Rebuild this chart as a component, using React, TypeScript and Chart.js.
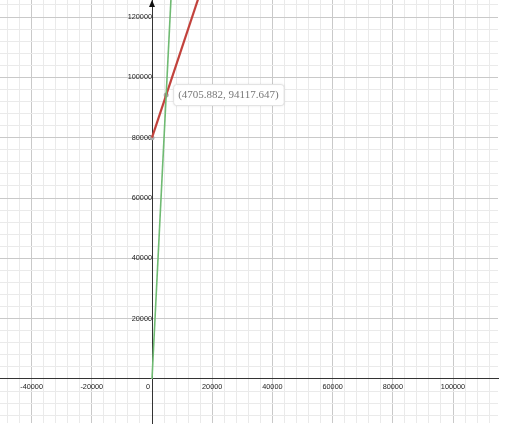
import { useEffect, useRef } from "react"
import { Chart, registerables } from "chart.js"

Chart.register(...registerables)

// two lines, both starting at x = 0 and running off the top of the view
const greenX = [0, 7000]
const greenY = [0, 140000]
const redX = [0, 20000]
const redY = [80000, 140000]

// marked points and the label of the intersection
const pointX = [0, 4705.882]
const pointY = [80000, 94117.647]
const pointLabel = "(4705.882, 94117.647)"

// visible window, labelled ticks and minor grid spacing
const xRange = [-50500, 114950]
const yRange = [-14590, 125640]
const xLabelTicks = [-40000, -20000, 0, 20000, 40000, 60000, 80000, 100000]
const yLabelTicks = [20000, 40000, 60000, 80000, 100000, 120000]
const majorStep = 20000
const minorStep = 4000

const gridColor = (v: number) =>
  v === 0 ? "#333333" : v % majorStep === 0 ? "#c9c9c9" : "#eaeaea"

const gridTicks = (min: number, max: number) => {
  const out: { value: number }[] = []
  for (let v = Math.ceil(min / minorStep) * minorStep; v <= max; v += minorStep) out.push({ value: v })
  return out
}

// the axes sit inside the plot, so they should not push the plot edges inward
const noPadding = (s: any) => {
  s.paddingLeft = 0
  s.paddingRight = 0
  s.paddingTop = 0
  s.paddingBottom = 0
}

const overlay = {
  id: "overlay",
  afterDatasetsDraw(chart: any) {
    const { ctx, chartArea } = chart
    const x = chart.scales.x
    const y = chart.scales.y
    const ax = x.getPixelForValue(0)
    ctx.save()
    // arrow on top of the y axis
    ctx.fillStyle = "#111"
    ctx.beginPath()
    ctx.moveTo(ax, chartArea.top)
    ctx.lineTo(ax - 3, chartArea.top + 7)
    ctx.lineTo(ax + 3, chartArea.top + 7)
    ctx.closePath()
    ctx.fill()

    // label box next to the intersection
    const px = x.getPixelForValue(pointX[1])
    const py = y.getPixelForValue(pointY[1])
    ctx.font = "11px 'Liberation Serif', 'DejaVu Serif', serif"
    const w = ctx.measureText(pointLabel).width
    const bx = px + 7
    const by = py - 11
    const bw = w + 10
    const bh = 21
    ctx.shadowColor = "rgba(0,0,0,0.12)"
    ctx.shadowBlur = 3
    ctx.fillStyle = "#ffffff"
    ctx.strokeStyle = "#e2e2e2"
    ctx.lineWidth = 1
    ctx.beginPath()
    ctx.roundRect(bx + 0.5, by + 0.5, bw, bh, 3)
    ctx.fill()
    ctx.shadowBlur = 0
    ctx.shadowColor = "transparent"
    ctx.stroke()
    ctx.fillStyle = "#777777"
    ctx.textBaseline = "middle"
    ctx.fillText(pointLabel, bx + 5, py + 0.5)
    ctx.restore()
  },
}

export default function App() {
  const canvasRef = useRef<HTMLCanvasElement | null>(null)
  const chartRef = useRef<Chart | null>(null)

  useEffect(() => {
    if (!canvasRef.current) return
    if (chartRef.current) chartRef.current.destroy()

    const tickFont = { family: "'Liberation Sans', Arial, sans-serif", size: 7.3 }

    chartRef.current = new Chart(canvasRef.current, {
      type: "line",
      data: {
        datasets: [
          {
            label: "green",
            data: greenX.map((v, i) => ({ x: v, y: greenY[i] })),
            borderColor: "#6fba72",
            borderWidth: 1.6,
            pointRadius: 0,
          },
          {
            label: "red",
            data: redX.map((v, i) => ({ x: v, y: redY[i] })),
            borderColor: "#c2423c",
            borderWidth: 2.2,
            pointRadius: 0,
          },
          {
            label: "points",
            data: pointX.map((v, i) => ({ x: v, y: pointY[i] })),
            showLine: false,
            pointRadius: 2.5,
            pointBackgroundColor: "#a9a9a9",
            pointBorderWidth: 0,
          },
        ],
      },
      options: {
        animation: false,
        responsive: true,
        maintainAspectRatio: false,
        layout: { autoPadding: false, padding: { right: 7, bottom: 2, left: 0, top: 0 } },
        plugins: { legend: { display: false }, tooltip: { enabled: false } },
        scales: {
          x: {
            type: "linear",
            position: { y: 0 },
            min: xRange[0],
            max: xRange[1],
            afterBuildTicks: (s: any) => {
              s.ticks = gridTicks(xRange[0], xRange[1])
            },
            afterFit: noPadding,
            grid: {
              drawTicks: false,
              color: (c: any) => gridColor(c.tick.value),
            },
            border: { color: "#333333", width: 1 },
            ticks: {
              autoSkip: false,
              maxRotation: 0,
              minRotation: 0,
              padding: 4,
              color: "#222",
              font: tickFont,
              callback: (v: any) =>
                v === 0 ? "0    " : xLabelTicks.includes(v) ? String(v) : "",
            },
          },
          y: {
            type: "linear",
            position: { x: 0 },
            min: yRange[0],
            max: yRange[1],
            afterBuildTicks: (s: any) => {
              s.ticks = gridTicks(yRange[0], yRange[1])
            },
            afterFit: noPadding,
            grid: {
              drawTicks: false,
              color: (c: any) => gridColor(c.tick.value),
            },
            border: { color: "#333333", width: 1 },
            ticks: {
              autoSkip: false,
              padding: 3,
              color: "#222",
              font: tickFont,
              callback: (v: any) => (yLabelTicks.includes(v) ? String(v) : ""),
            },
          },
        },
      },
      plugins: [overlay],
    } as any)

    return () => {
      if (chartRef.current) {
        chartRef.current.destroy()
        chartRef.current = null
      }
    }
  }, [])

  return (
    <div style={{ position: "absolute", left: 0, top: 0, width: 505, height: 425, background: "#fff" }}>
      <canvas ref={canvasRef} />
    </div>
  )
}
